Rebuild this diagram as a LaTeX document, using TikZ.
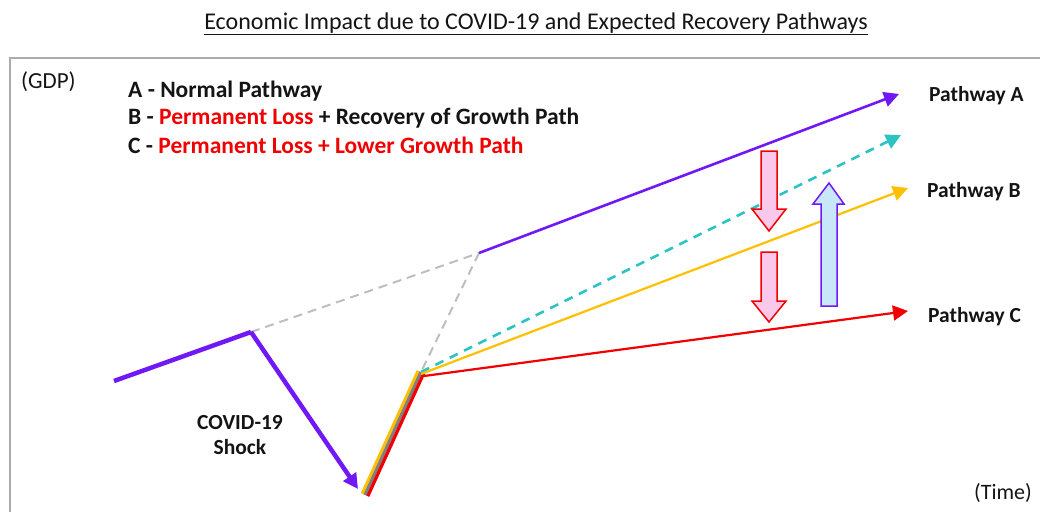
\documentclass[tikz,border=0pt]{standalone}
\usepackage{fontspec}
\setmainfont{Carlito}
\usetikzlibrary{arrows.meta}
\definecolor{vio}{RGB}{112,24,245}
\definecolor{cya}{RGB}{45,195,195}
\definecolor{gold}{RGB}{255,192,0}
\definecolor{rd}{RGB}{240,0,0}
\definecolor{dgray}{RGB}{190,190,190}
\definecolor{pinkfill}{RGB}{250,200,235}
\definecolor{bluefill}{RGB}{200,232,250}
\definecolor{txt}{RGB}{20,20,20}
\tikzset{
  tip/.style={-{Triangle[length=15pt,width=15pt]}},
  gdash/.style={dgray,line width=2pt,dash pattern=on 9pt off 6pt},
  lbl/.style={font=\bfseries\fontsize{21.5}{24}\selectfont,text=txt,anchor=west,inner sep=0pt},
  leg/.style={font=\bfseries\fontsize{23.5}{26}\selectfont,text=txt,anchor=west,inner sep=0pt},
  downarrow/.style={draw=rd,fill=pinkfill,line width=1.5pt,line join=miter},
  uparrow/.style={draw=vio,fill=bluefill,line width=1.5pt,line join=miter}
}
\begin{document}
\begin{tikzpicture}[x=1pt,y=-1pt]
\useasboundingbox (0,0) rectangle (1040,511);
% frame
\draw[gray!65,line width=1.8pt] (10,515) -- (10,58) -- (1045,58);
% title
\node[font=\fontsize{24}{28}\selectfont,text=txt,inner sep=0pt] (title) at (536,24) {\underline{Economic Impact due to COVID-19 and Expected Recovery Pathways}};
\node[font=\fontsize{23}{26}\selectfont,text=txt,anchor=west,inner sep=0pt] (gdp) at (21,82) {(GDP)};
\node[font=\fontsize{22}{26}\selectfont,text=txt,anchor=east,inner sep=0pt] (time) at (1032,493) {(Time)};
% legend
\node[leg] (legA) at (128,91) {A - Normal Pathway};
\node[leg] (legB) at (128,118) {B - \textcolor{rd}{Permanent Loss} + Recovery of Growth Path};
\node[leg] (legC) at (128,145) {C - \textcolor{rd}{Permanent Loss + Lower Growth Path}};
% key points
\coordinate (start) at (114,381);
\coordinate (peak) at (251,332);
\coordinate (trough) at (358,489);
\coordinate (trend) at (479,253);
\coordinate (rec) at (421,372);
\coordinate (recb) at (365,495);
\coordinate (endA) at (899,94);
\coordinate (endN) at (901,135);
\coordinate (endB) at (908,188);
\coordinate (endC) at (908,311);
% dashed trend
\draw[gdash] (peak) -- (trend);
\draw[gdash] (trend) -- (rec);
% pre covid and shock
\draw[vio,line width=4.5pt,line join=round] (start) -- (peak);
\draw[vio,line width=4.5pt,tip] (peak) -- (trough);
% recovery stripes
\draw[gold,line width=3.2pt] ([shift={(-2.8,-1.2)}]recb) -- ([shift={(-2.8,-1.2)}]rec);
\draw[gray,line width=3.2pt] (recb) -- (rec);
\draw[rd,line width=3.2pt] ([shift={(2.8,1.2)}]recb) -- ([shift={(2.8,1.2)}]rec);
% pathways
\draw[vio,line width=2.6pt,tip] (trend) -- (endA);
\draw[cya,line width=2.6pt,dash pattern=on 9pt off 7pt,-{Triangle[length=15pt,width=15pt]}] (rec) -- (endN);
\draw[gold,line width=2.2pt,tip] ([shift={(0,2)}]rec) -- (endB);
\draw[rd,line width=2.2pt,tip] ([shift={(3,4)}]rec) -- (endC);
% labels
\node[lbl] (pA) at (929,96) {Pathway A};
\node[lbl] (pB) at (927,192) {Pathway B};
\node[lbl] (pC) at (928,317) {Pathway C};
\node[font=\bfseries\fontsize{21.5}{25}\selectfont,text=txt,align=center,inner sep=0pt] (shock) at (240,435) {COVID-19\\Shock};
% block arrows
\draw[downarrow] (761,151) -- (777,151) -- (777,209) -- (786,209) -- (769,231) -- (752,209) -- (761,209) -- cycle;
\draw[downarrow] (761,252) -- (777,252) -- (777,301) -- (786,301) -- (769,322) -- (752,301) -- (761,301) -- cycle;
\draw[uparrow] (821,306) -- (837,306) -- (837,204) -- (844,204) -- (829,183) -- (813,204) -- (821,204) -- cycle;
\end{tikzpicture}
\end{document}
